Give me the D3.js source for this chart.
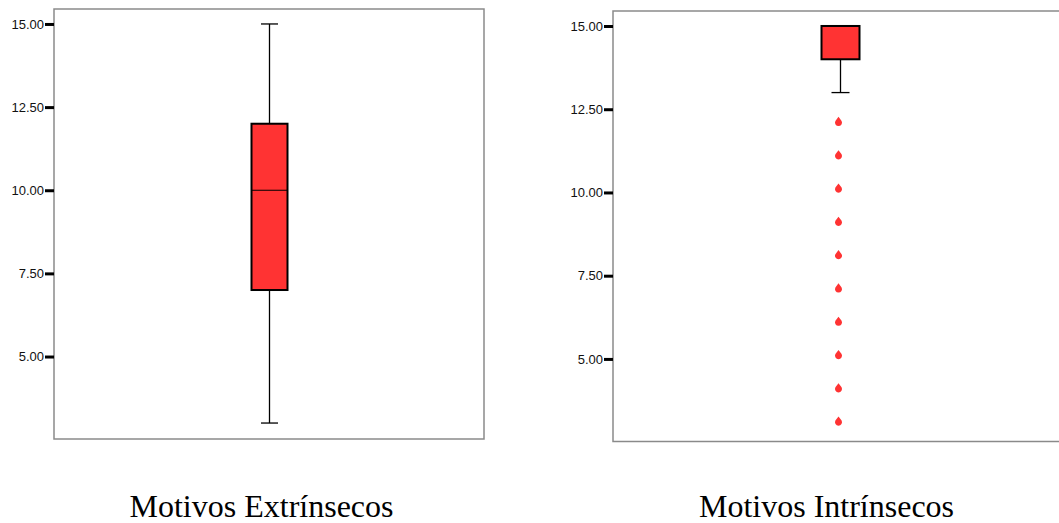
<!DOCTYPE html>
<html>
<head>
<meta charset="utf-8">
<script src="https://cdn.jsdelivr.net/npm/d3@7"></script>
<style>
html,body{margin:0;padding:0;background:#fff;}
svg{display:block;}
</style>
</head>
<body>
<svg id="chart" width="1059" height="523"></svg>
<script>
// ---- data ----
const categories = ["Motivos Extrínsecos", "Motivos Intrínsecos"];
const whiskerLow  = [3, 13];
const q1          = [7, 14];
const medians     = [10, 15];
const q3          = [12, 15];
const whiskerHigh = [15, 15];
const outliersExt = [];
const outliersInt = [12, 11, 10, 9, 8, 7, 6, 5, 4, 3];
const tickValues  = [5, 7.5, 10, 12.5, 15];
const yDomain     = [2.52, 15.45];

// ---- layout ----
const svg = d3.select("#chart");
const panels = [
  {left: 54,  right: 484,  top: 9,  bottom: 439,   cx: 269.5, boxW: 36, capW: 17, labelX: 261.5, outliers: outliersExt},
  {left: 613, right: 1066, top: 11, bottom: 441.5, cx: 840.5, boxW: 38, capW: 18, labelX: 826.5, outliers: outliersInt}
];
const fill = "#FF3333";

panels.forEach((p, i) => {
  const y = d3.scaleLinear().domain(yDomain).range([p.bottom, p.top]);
  const g = svg.append("g");

  // frame
  g.append("rect")
    .attr("x", p.left).attr("y", p.top)
    .attr("width", p.right - p.left).attr("height", p.bottom - p.top)
    .attr("fill", "none").attr("stroke", "#8a8a8a").attr("stroke-width", 1.5);

  // axis
  const axis = d3.axisLeft(y)
    .tickValues(tickValues)
    .tickFormat(d3.format(".2f"))
    .tickSize(9).tickPadding(1);
  const ax = g.append("g").attr("transform", `translate(${p.left},0)`).call(axis);
  ax.select(".domain").remove();
  ax.selectAll(".tick line").attr("stroke", "#000").attr("stroke-width", 3);
  ax.selectAll(".tick text")
    .attr("font-family", "Liberation Sans, Arial, sans-serif")
    .attr("font-size", 13).attr("fill", "#111");

  // whiskers
  const wl = whiskerLow[i], wh = whiskerHigh[i];
  g.append("line")
    .attr("x1", p.cx).attr("x2", p.cx)
    .attr("y1", y(wl)).attr("y2", y(q1[i]))
    .attr("stroke", "#000").attr("stroke-width", 1.3);
  g.append("line")
    .attr("x1", p.cx).attr("x2", p.cx)
    .attr("y1", y(wh)).attr("y2", y(q3[i]))
    .attr("stroke", "#000").attr("stroke-width", 1.3);
  [wl, wh].forEach(v => {
    g.append("line")
      .attr("x1", p.cx - p.capW / 2).attr("x2", p.cx + p.capW / 2)
      .attr("y1", y(v)).attr("y2", y(v))
      .attr("stroke", "#000").attr("stroke-width", 1.3);
  });

  // box
  g.append("rect")
    .attr("x", p.cx - p.boxW / 2).attr("width", p.boxW)
    .attr("y", y(q3[i])).attr("height", y(q1[i]) - y(q3[i]))
    .attr("fill", fill).attr("stroke", "#000").attr("stroke-width", 2);

  // median
  g.append("line")
    .attr("x1", p.cx - p.boxW / 2).attr("x2", p.cx + p.boxW / 2)
    .attr("y1", y(medians[i])).attr("y2", y(medians[i]))
    .attr("stroke", "#000").attr("stroke-width", 1.2);

  // outliers (drop-shaped markers)
  const drop = "M0,-9 L3.1,-4.9 A3.5,3.5 0 1 1 -3.1,-4.9 Z";
  g.selectAll("path.outlier").data(p.outliers).enter().append("path")
    .attr("class", "outlier")
    .attr("d", drop)
    .attr("transform", d => `translate(${p.cx - 2},${y(d)})`)
    .attr("fill", fill);

  // category label
  g.append("text")
    .attr("x", p.labelX).attr("y", 517)
    .attr("text-anchor", "middle")
    .attr("font-family", "Liberation Serif, 'Times New Roman', serif")
    .attr("font-size", 32).attr("fill", "#000")
    .text(categories[i]);
});
</script>
</body>
</html>
